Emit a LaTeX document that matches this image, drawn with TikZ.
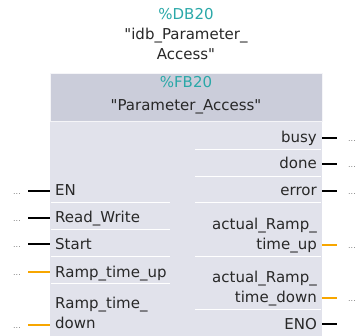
\documentclass[tikz,border=0pt]{standalone}
\usepackage{fontspec}
\setmainfont{DejaVu Sans}
\usepackage{tikz}
\usetikzlibrary{positioning}
\definecolor{fbteal}{RGB}{42,168,168}
\definecolor{fborange}{RGB}{247,166,0}
\definecolor{fbhead}{RGB}{203,205,218}
\definecolor{fbbody}{RGB}{225,226,235}
\definecolor{fbtext}{RGB}{40,40,40}
\tikzset{
	pintext/.style={font=\fontsize{15}{20}\selectfont, text=fbtext, inner sep=0pt}
}
\tikzset{
	dottext/.style={font=\fontsize{8}{8}\selectfont\color{gray}, inner sep=0pt}
}
\newcommand{\dq}{\textquotedbl}

\begin{document}
\begin{tikzpicture}[x=1pt,y=-1pt]

\tikzset{
    pinline/.style={line width=2pt},
    boolpin/.style={pinline, draw=black},
    timepin/.style={pinline, draw=fborange},
    sepline/.style={draw=white, line width=0.8pt}
}
\useasboundingbox (0,0) rectangle (358,336);

% block body and header
\fill[fbbody] (50,121) rectangle (322,336);
\filldraw[fill=fbhead, draw=white!80!fbhead] (50,73) rectangle (322,121);

% separators
\draw[sepline] (51,202) -- (170,202);
\draw[sepline] (51,229) -- (170,229);
\draw[sepline] (51,256) -- (170,256);
\draw[sepline] (51,283) -- (170,283);
\draw[sepline] (195,149) -- (321,149);
\draw[sepline] (195,176) -- (321,176);
\draw[sepline] (195,202) -- (321,202);
\draw[sepline] (195,256) -- (321,256);
\draw[sepline] (195,309) -- (321,309);

% titles
\node[pintext, text=fbteal, anchor=base] (db) at (186,20) {\%DB20};
\node[pintext, align=center, anchor=base] (idb) at (186,60) {\dq idb\_Parameter\_\\Access\dq};
\node[pintext, text=fbteal, anchor=base] (fb) at (186,88) {\%FB20};
\node[pintext, anchor=base] (fbname) at (186,111) {\dq Parameter\_Access\dq};

% inputs
\node[pintext, anchor=base west] (en) at (55,196) {EN};
\node[pintext, anchor=base west] (rw) at (55,223) {Read\_Write};
\node[pintext, anchor=base west] (start) at (55,249) {Start};
\node[pintext, anchor=base west] (rtup) at (55,277) {Ramp\_time\_up};
\node[pintext, anchor=base west, align=left] (rtdown) at (55,328) {Ramp\_time\_\\down};

\coordinate (en-w) at (28,191);     \coordinate (en-e) at (50,191);
\coordinate (rw-w) at (28,218);     \coordinate (rw-e) at (50,218);
\coordinate (start-w) at (28,244);  \coordinate (start-e) at (50,244);
\coordinate (rtup-w) at (28,272);   \coordinate (rtup-e) at (50,272);
\coordinate (rtdown-w) at (28,325); \coordinate (rtdown-e) at (50,325);

\draw[boolpin] (en-w) -- (en-e);
\draw[boolpin] (rw-w) -- (rw-e);
\draw[boolpin] (start-w) -- (start-e);
\draw[timepin] (rtup-w) -- (rtup-e);
\draw[timepin] (rtdown-w) -- (rtdown-e);

\node[dottext] (en-d) at (17,194) {...};
\node[dottext] (rw-d) at (17,221) {...};
\node[dottext] (start-d) at (17,247) {...};
\node[dottext] (rtup-d) at (17,275) {...};
\node[dottext] (rtdown-d) at (17,328) {...};

% outputs
\node[pintext, anchor=base east] (busy) at (317,143) {busy};
\node[pintext, anchor=base east] (done) at (317,169) {done};
\node[pintext, anchor=base east] (error) at (317,196) {error};
\node[pintext, anchor=base east, align=right] (artup) at (317,249) {actual\_Ramp\_\\time\_up};
\node[pintext, anchor=base east, align=right] (artdown) at (317,302) {actual\_Ramp\_\\time\_down};
\node[pintext, anchor=base east] (eno) at (317,329) {ENO};

\coordinate (busy-w) at (322,138);    \coordinate (busy-e) at (337,138);
\coordinate (done-w) at (322,164);    \coordinate (done-e) at (337,164);
\coordinate (error-w) at (322,191);   \coordinate (error-e) at (337,191);
\coordinate (artup-w) at (322,245);   \coordinate (artup-e) at (337,245);
\coordinate (artdown-w) at (322,298); \coordinate (artdown-e) at (337,298);
\coordinate (eno-w) at (322,324);     \coordinate (eno-e) at (337,324);

\draw[boolpin] (busy-w) -- (busy-e);
\draw[boolpin] (done-w) -- (done-e);
\draw[boolpin] (error-w) -- (error-e);
\draw[timepin] (artup-w) -- (artup-e);
\draw[timepin] (artdown-w) -- (artdown-e);
\draw[boolpin] (eno-w) -- (eno-e);

\node[dottext] (busy-d) at (352,141) {...};
\node[dottext] (done-d) at (352,167) {...};
\node[dottext] (error-d) at (352,194) {...};
\node[dottext] (artup-d) at (352,248) {...};
\node[dottext] (artdown-d) at (352,301) {...};
\end{tikzpicture}
\end{document}
